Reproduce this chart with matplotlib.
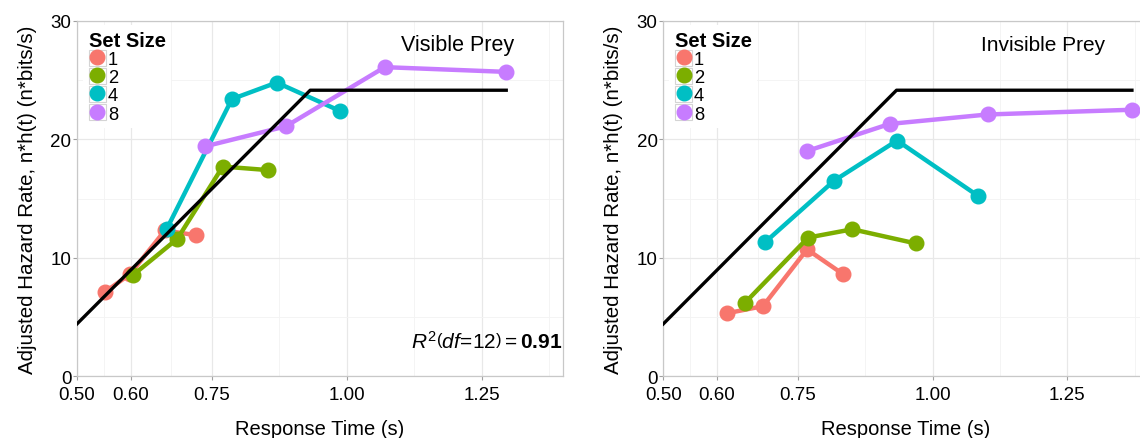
import numpy as np
import matplotlib
matplotlib.use("Agg")
from matplotlib import pyplot as plt
from matplotlib.lines import Line2D
from matplotlib.patches import Rectangle
from matplotlib.legend_handler import HandlerTuple

plt.rcParams['font.family'] = ['Liberation Sans', 'DejaVu Sans']
plt.rcParams['mathtext.fontset'] = 'custom'
plt.rcParams['mathtext.rm'] = 'Liberation Sans'
plt.rcParams['mathtext.it'] = 'Liberation Sans:italic'
plt.rcParams['mathtext.bf'] = 'Liberation Sans:bold'

set_sizes = ["1", "2", "4", "8"]
colors = ["#F8766D", "#7CAE00", "#00BFC4", "#C77CFF"]

# Visible prey (left panel)
vis_x = {
    "1": [0.552, 0.598, 0.663, 0.720],
    "2": [0.603, 0.686, 0.770, 0.854],
    "4": [0.666, 0.787, 0.870, 0.987],
    "8": [0.737, 0.887, 1.070, 1.295],
}
vis_y = {
    "1": [7.1, 8.6, 12.3, 11.9],
    "2": [8.5, 11.6, 17.7, 17.4],
    "4": [12.4, 23.4, 24.8, 22.4],
    "8": [19.4, 21.1, 26.1, 25.7],
}
vis_fit_x = [0.50, 0.932, 1.295]
vis_fit_y = [4.4, 24.15, 24.15]

# Invisible prey (right panel)
inv_x = {
    "1": [0.618, 0.685, 0.767, 0.834],
    "2": [0.652, 0.769, 0.851, 0.969],
    "4": [0.689, 0.817, 0.934, 1.085],
    "8": [0.766, 0.920, 1.102, 1.370],
}
inv_y = {
    "1": [5.3, 5.9, 10.7, 8.6],
    "2": [6.2, 11.7, 12.4, 11.2],
    "4": [11.3, 16.5, 19.9, 15.2],
    "8": [19.0, 21.3, 22.1, 22.5],
}
inv_fit_x = [0.50, 0.933, 1.370]
inv_fit_y = [4.4, 24.15, 24.15]

x_major = [0.50, 0.60, 0.75, 1.00, 1.25]
x_minor = [0.55, 0.675, 0.875, 1.125, 1.375]
y_major = [0, 10, 20, 30]
y_minor = [5, 15, 25]


def draw_panel(ax, xs, ys, fit_x, fit_y, title, title_size):
    ax.set_xlim(0.5, 1.4)
    ax.set_ylim(0, 30)
    ax.set_xticks(x_major)
    ax.set_xticklabels(["0.50", "0.60", "0.75", "1.00", "1.25"])
    ax.set_xticks(x_minor, minor=True)
    ax.set_yticks(y_major)
    ax.set_yticks(y_minor, minor=True)
    ax.grid(which='major', color='#e8e8e8', lw=0.9)
    ax.grid(which='minor', color='#f3f3f3', lw=0.6)
    ax.set_axisbelow(True)
    for s in ax.spines.values():
        s.set_color('#c8c8c8')
        s.set_linewidth(0.9)
    ax.tick_params(which='major', length=3, color='#a0a0a0', labelsize=13.5)
    ax.tick_params(axis='x', pad=4)
    ax.tick_params(axis='y', pad=1)
    ax.tick_params(which='minor', length=0)

    for s, c in zip(set_sizes, colors):
        ax.plot(xs[s], ys[s], color=c, lw=3.2, marker='o', ms=10.5, mec=c, solid_capstyle='round', zorder=3)
    ax.plot(fit_x, fit_y, color='black', lw=2.4, zorder=4)

    ax.set_xlabel("Response Time (s)", fontsize=14.5, labelpad=12)
    ax.set_ylabel("Adjusted Hazard Rate, n*h(t) (n*bits/s)", fontsize=14.8, labelpad=10)
    ax.text(1.205, 28.0, title, fontsize=title_size, ha='center', va='center')

    handles = [(Rectangle((0, 0), 1, 1, facecolor='white', edgecolor='#d4d4d4', lw=0.8),
                Line2D([], [], color=c, marker='o', ms=10.5, lw=0)) for c in colors]
    leg = ax.legend(handles, set_sizes, title="Set Size", loc='upper left',
                    bbox_to_anchor=(0.005, 0.998), fontsize=13.2, frameon=True,
                    facecolor='white', edgecolor='none', framealpha=1,
                    handler_map={tuple: HandlerTuple(ndivide=1, pad=0)},
                    handlelength=0.95, handleheight=0.95, handletextpad=0.1,
                    labelspacing=0.0, borderpad=0.3, borderaxespad=0.2)
    leg.get_title().set_fontweight('bold')
    leg.get_title().set_fontsize(14.5)
    leg._legend_box.align = "left"


fig = plt.figure(figsize=(11.4, 4.39), dpi=100)
ax1 = fig.add_axes([0.0675, 0.1412, 0.4263, 0.8087])
ax2 = fig.add_axes([0.5818, 0.1412, 0.4253, 0.8087])

draw_panel(ax1, vis_x, vis_y, vis_fit_x, vis_fit_y, "Visible Prey", 15.5)
draw_panel(ax2, inv_x, inv_y, inv_fit_x, inv_fit_y, "Invisible Prey", 15)

ax1.text(1.399, 3.0, r'$\mathit{R}^2\left(\mathit{df\!=\!12}\right) = \mathbf{0.91}$',
         fontsize=15, ha='right', va='center')

fig.savefig("out.png", dpi=100)
